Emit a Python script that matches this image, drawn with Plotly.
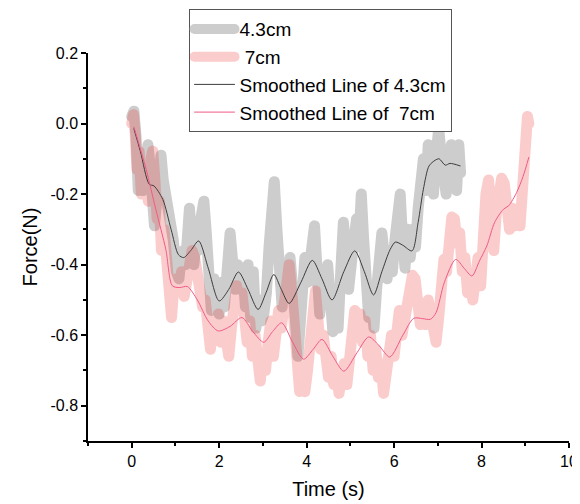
import plotly.graph_objects as go

# ---- data ----
t_43 = [0.00, 0.05, 0.10, 0.15, 0.20, 0.25, 0.30, 0.37, 0.42, 0.47, 0.52, 0.57, 0.63, 0.67, 0.72, 0.80, 0.87, 0.95,
        1.02, 1.08, 1.13, 1.18, 1.23, 1.28, 1.32, 1.37, 1.42, 1.47, 1.52, 1.58, 1.65, 1.70, 1.76, 1.82, 1.88, 1.94,
        2.00, 2.06, 2.12, 2.18, 2.25, 2.30, 2.36, 2.42, 2.48, 2.54, 2.60, 2.66, 2.72, 2.78, 2.84, 2.90, 2.96,
        3.02, 3.08, 3.14, 3.20, 3.26, 3.32, 3.38, 3.44, 3.50, 3.56, 3.62, 3.68, 3.74, 3.80, 3.85, 3.90, 3.96,
        4.02, 4.08, 4.13, 4.18, 4.24, 4.30, 4.36, 4.42, 4.48, 4.54, 4.60, 4.66, 4.72, 4.78, 4.84, 4.90, 4.96,
        5.02, 5.08, 5.14, 5.19, 5.25, 5.30, 5.36, 5.42, 5.48, 5.54, 5.60, 5.66, 5.72, 5.78, 5.84, 5.90, 5.96,
        6.02, 6.08, 6.14, 6.19, 6.25, 6.31, 6.37, 6.43, 6.49, 6.55, 6.61, 6.67, 6.73, 6.78, 6.84, 6.90, 6.96,
        7.02, 7.07, 7.13, 7.19, 7.25, 7.31, 7.37, 7.43, 7.48, 7.52]
f_43 = [0.02, 0.035, -0.04, -0.19, -0.12, -0.19, -0.15, -0.06, -0.12, -0.23, -0.29, -0.22, -0.12, -0.09, -0.16, -0.21, -0.28, -0.33,
        -0.42, -0.44, -0.38, -0.36, -0.40, -0.30, -0.24, -0.33, -0.40, -0.34, -0.36, -0.27, -0.22, -0.30, -0.42, -0.53, -0.44, -0.50,
        -0.54, -0.45, -0.52, -0.42, -0.31, -0.38, -0.47, -0.40, -0.47, -0.41, -0.52, -0.40, -0.55, -0.42, -0.58, -0.50, -0.56,
        -0.54, -0.48, -0.35, -0.22, -0.165, -0.30, -0.45, -0.52, -0.40, -0.48, -0.38, -0.44, -0.55, -0.66, -0.56, -0.42, -0.38,
        -0.45, -0.36, -0.30, -0.29, -0.42, -0.54, -0.44, -0.48, -0.40, -0.55, -0.59, -0.50, -0.58, -0.42, -0.28, -0.36, -0.47,
        -0.40, -0.33, -0.27, -0.35, -0.20, -0.32, -0.45, -0.55, -0.50, -0.58, -0.47, -0.40, -0.31, -0.38, -0.44, -0.36, -0.42,
        -0.33, -0.25, -0.20, -0.32, -0.41, -0.30, -0.38, -0.30, -0.35, -0.24, -0.15, -0.10, -0.19, -0.06, -0.14, -0.20, -0.09,
        -0.015, -0.08, -0.19, -0.20, -0.12, -0.06, -0.15, -0.19, -0.06, -0.14]

t_7 = [0.00, 0.04, 0.08, 0.12, 0.17, 0.22, 0.28, 0.33, 0.38, 0.44, 0.48, 0.53, 0.58, 0.63, 0.68, 0.74, 0.80, 0.86, 0.91, 0.96,
       1.02, 1.08, 1.14, 1.20, 1.26, 1.32, 1.38, 1.44, 1.50, 1.56, 1.62, 1.68, 1.74, 1.80, 1.86, 1.92, 1.98,
       2.04, 2.10, 2.16, 2.22, 2.28, 2.34, 2.40, 2.46, 2.52, 2.58, 2.64, 2.70, 2.76, 2.82, 2.88, 2.94,
       3.00, 3.06, 3.12, 3.18, 3.24, 3.30, 3.36, 3.42, 3.48, 3.54, 3.60, 3.66, 3.72, 3.78, 3.84, 3.90, 3.96,
       4.02, 4.08, 4.14, 4.20, 4.26, 4.32, 4.38, 4.44, 4.50, 4.56, 4.62, 4.68, 4.74, 4.80, 4.86, 4.92, 4.98,
       5.04, 5.10, 5.16, 5.22, 5.28, 5.34, 5.40, 5.46, 5.52, 5.58, 5.64, 5.70, 5.76, 5.82, 5.88, 5.94,
       6.00, 6.06, 6.12, 6.18, 6.24, 6.30, 6.36, 6.42, 6.48, 6.54, 6.60, 6.66, 6.72, 6.78, 6.84, 6.90, 6.96,
       7.02, 7.08, 7.14, 7.20, 7.26, 7.32, 7.38, 7.44, 7.50, 7.56, 7.62, 7.68, 7.74, 7.80, 7.86, 7.92, 7.98,
       8.04, 8.10, 8.16, 8.22, 8.28, 8.34, 8.40, 8.46, 8.52, 8.58, 8.64, 8.70, 8.76, 8.82, 8.88, 8.94,
       9.00, 9.05, 9.08]
f_7 = [0.00, 0.025, -0.03, -0.13, -0.08, -0.20, -0.12, -0.18, -0.22, -0.10, -0.078, -0.16, -0.27, -0.22, -0.36, -0.30, -0.42, -0.46, -0.55, -0.47,
       -0.44, -0.47, -0.42, -0.49, -0.44, -0.40, -0.36, -0.38, -0.44, -0.48, -0.52, -0.50, -0.58, -0.64, -0.56, -0.60, -0.54,
       -0.62, -0.56, -0.60, -0.66, -0.58, -0.50, -0.46, -0.52, -0.48, -0.55, -0.62, -0.56, -0.66, -0.60, -0.70, -0.73,
       -0.66, -0.70, -0.62, -0.56, -0.66, -0.60, -0.53, -0.58, -0.52, -0.46, -0.40, -0.48, -0.62, -0.70, -0.76, -0.72, -0.76,
       -0.70, -0.62, -0.55, -0.475, -0.56, -0.64, -0.60, -0.66, -0.72, -0.66, -0.74, -0.70, -0.765, -0.72, -0.68, -0.74, -0.66,
       -0.60, -0.53, -0.58, -0.54, -0.62, -0.56, -0.66, -0.60, -0.70, -0.64, -0.72, -0.68, -0.765, -0.72, -0.66, -0.60,
       -0.66, -0.56, -0.53, -0.60, -0.55, -0.50, -0.46, -0.43, -0.44, -0.52, -0.57, -0.53, -0.57, -0.50, -0.54, -0.58, -0.62,
       -0.55, -0.45, -0.385, -0.42, -0.33, -0.265, -0.27, -0.34, -0.31, -0.42, -0.38, -0.48, -0.43, -0.50, -0.44, -0.38, -0.46,
       -0.30, -0.20, -0.16, -0.28, -0.36, -0.25, -0.20, -0.155, -0.17, -0.22, -0.30, -0.24, -0.29, -0.25, -0.29, -0.18,
       -0.06, 0.02, 0.00]

ts_43 = [0.05, 0.20, 0.40, 0.51, 0.71, 0.90, 1.07, 1.19, 1.35, 1.53, 1.75, 2.00, 2.22, 2.44, 2.66, 2.89, 3.07, 3.25,
         3.42, 3.60, 3.87, 4.13, 4.35, 4.58, 4.85, 5.10, 5.32, 5.53, 5.72, 5.91, 6.03, 6.20, 6.41, 6.55, 6.67,
         6.80, 6.94, 7.03, 7.17, 7.28, 7.51]
fs_43 = [-0.015, -0.08, -0.172, -0.177, -0.215, -0.30, -0.372, -0.38, -0.36, -0.333, -0.41, -0.503, -0.47, -0.421,
         -0.47, -0.527, -0.48, -0.428, -0.47, -0.51, -0.45, -0.388, -0.44, -0.50, -0.42, -0.361, -0.42, -0.486,
         -0.42, -0.357, -0.336, -0.345, -0.361, -0.28, -0.186, -0.12, -0.104, -0.10, -0.118, -0.113, -0.12]

ts_7 = [0.05, 0.33, 0.55, 0.78, 0.93, 1.10, 1.27, 1.50, 1.75, 1.98, 2.25, 2.52, 2.77, 3.02, 3.22, 3.43, 3.68, 3.93,
        4.15, 4.35, 4.60, 4.85, 5.15, 5.42, 5.66, 5.90, 6.20, 6.45, 6.65, 6.83, 6.96, 7.15, 7.41, 7.60, 7.78,
        7.95, 8.12, 8.30, 8.50, 8.62, 8.80, 8.95, 9.08]
fs_7 = [-0.01, -0.13, -0.243, -0.357, -0.46, -0.465, -0.462, -0.50, -0.56, -0.588, -0.575, -0.55, -0.59, -0.62,
        -0.59, -0.565, -0.62, -0.668, -0.64, -0.612, -0.66, -0.702, -0.65, -0.605, -0.63, -0.662, -0.60, -0.552,
        -0.553, -0.555, -0.536, -0.45, -0.385, -0.41, -0.432, -0.39, -0.347, -0.28, -0.243, -0.233, -0.196,
        -0.15, -0.096]

x_ticks = [0, 2, 4, 6, 8, 10]
x_labels = ["0", "2", "4", "6", "8", "10"]
y_ticks = [0.2, 0.0, -0.2, -0.4, -0.6, -0.8]
y_labels = ["0.2", "0.0", "-0.2", "-0.4", "-0.6", "-0.8"]

FONT = "Arial, Liberation Sans, sans-serif"

fig = go.Figure()
fig.add_trace(go.Scatter(x=t_43, y=f_43, mode="lines", name="4.3cm",
                         line=dict(color="rgb(205,205,205)", width=11)))
fig.add_trace(go.Scatter(x=t_7, y=f_7, mode="lines", name=" 7cm",
                         line=dict(color="rgba(240,40,40,0.24)", width=11)))
fig.add_trace(go.Scatter(x=ts_43, y=fs_43, mode="lines", name="Smoothed Line of 4.3cm",
                         line=dict(color="rgb(60,60,60)", width=1, shape="spline", smoothing=0.8)))
fig.add_trace(go.Scatter(x=ts_7, y=fs_7, mode="lines", name="Smoothed Line of  7cm",
                         line=dict(color="rgb(240,90,135)", width=1, shape="spline", smoothing=0.8)))

# page body has an 8px margin, so the figure is drawn 8px smaller and offset
fig.update_layout(
    width=572, height=496,
    margin=dict(l=80, r=11, t=45, b=63, autoexpand=False),
    paper_bgcolor="white", plot_bgcolor="white",
    font=dict(family=FONT, color="black"),
    showlegend=True,
    legend=dict(x=0.209, y=1.113, xanchor="left", yanchor="top",
                bordercolor="#555555", borderwidth=1, bgcolor="white",
                itemwidth=40,
                font=dict(size=19, family=FONT), tracegroupgap=0),
)
fig.update_xaxes(range=[-1, 10], showline=True, linecolor="black", linewidth=1.5,
                 tickmode="array", tickvals=x_ticks, ticktext=x_labels, automargin=False,
                 ticks="outside", ticklen=5, tickcolor="black", tickwidth=1.5,
                 minor=dict(dtick=1, tick0=-1, ticks="outside", ticklen=3, tickcolor="black", tickwidth=1.5),
                 showgrid=False, zeroline=False, tickfont=dict(size=16),
                 title=dict(text="Time (s)", font=dict(size=20), standoff=13))
fig.update_yaxes(range=[-0.9, 0.2], showline=True, linecolor="black", linewidth=1.5,
                 tickmode="array", tickvals=y_ticks, ticktext=y_labels, automargin=False,
                 ticks="outside", ticklen=5, tickcolor="black", tickwidth=1.5,
                 minor=dict(dtick=0.1, tick0=0.2, ticks="outside", ticklen=3, tickcolor="black", tickwidth=1.5),
                 showgrid=False, zeroline=False, tickfont=dict(size=16),
                 title=dict(text="Force(N)", font=dict(size=20), standoff=7))

post = """
document.querySelectorAll('path.js-line').forEach(function(p){
  p.style.strokeLinejoin='round'; p.style.strokeLinecap='round';
});
"""
fig.write_html("out.html", post_script=post)
